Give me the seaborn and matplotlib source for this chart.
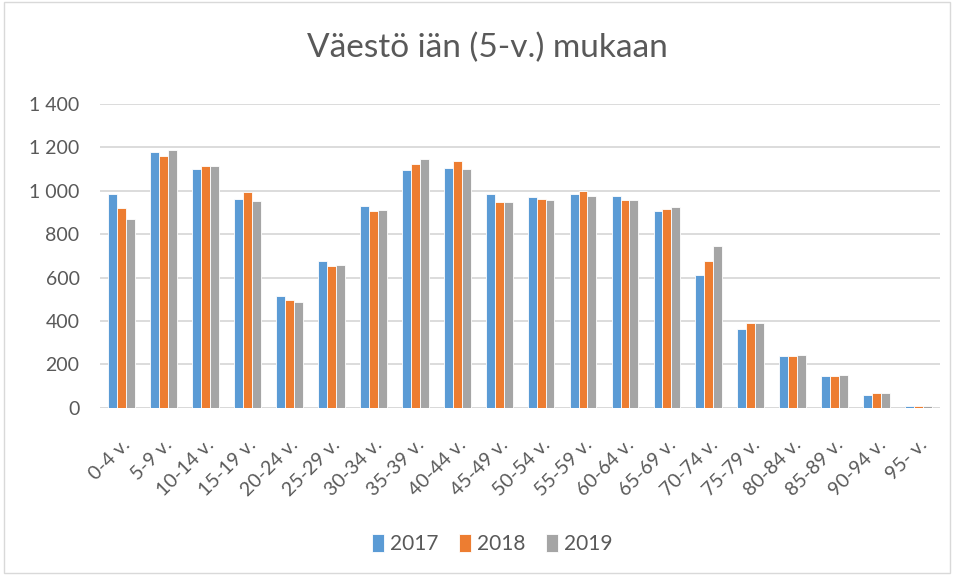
import numpy as np
import pandas as pd
import matplotlib
matplotlib.use("Agg")
import matplotlib.pyplot as plt
import seaborn as sns
from matplotlib.ticker import FuncFormatter
from matplotlib.patches import Rectangle

# --- DATA ---
age_groups = ["0-4 v.", "5-9 v.", "10-14 v.", "15-19 v.", "20-24 v.", "25-29 v.",
              "30-34 v.", "35-39 v.", "40-44 v.", "45-49 v.", "50-54 v.", "55-59 v.",
              "60-64 v.", "65-69 v.", "70-74 v.", "75-79 v.", "80-84 v.", "85-89 v.",
              "90-94 v.", "95- v."]
years = ["2017", "2018", "2019"]
pop_2017 = [987, 1177, 1100, 964, 517, 676, 929, 1094, 1106, 987,
            970, 987, 976, 906, 611, 364, 240, 145, 58, 10]
pop_2018 = [921, 1160, 1112, 995, 499, 652, 906, 1123, 1135, 947,
            964, 999, 958, 917, 676, 393, 240, 145, 69, 10]
pop_2019 = [871, 1189, 1112, 953, 487, 658, 912, 1148, 1100, 947,
            958, 976, 958, 923, 747, 393, 246, 151, 69, 8]
colors = ["#5B9BD5", "#ED7D31", "#A5A5A5"]

df = pd.DataFrame({
    "ika": age_groups * 3,
    "vuosi": np.repeat(years, len(age_groups)),
    "vaesto": pop_2017 + pop_2018 + pop_2019,
})

sns.set_style("white")
plt.rcParams["font.family"] = ["Lato", "DejaVu Sans"]
text_col = "#595959"

fig = plt.figure(figsize=(9.56, 5.77), dpi=100)
ax = fig.add_axes([0.105, 0.293, 0.878, 0.527])

sns.barplot(data=df, x="ika", y="vaesto", hue="vuosi", palette=colors,
            saturation=1, width=0.64, edgecolor="white", linewidth=0.6,
            ax=ax, zorder=3)

ax.set_ylim(0, 1400)
ax.set_xlim(-0.5, len(age_groups) - 0.5)
ax.set_yticks(range(0, 1401, 200))
ax.yaxis.set_major_formatter(FuncFormatter(lambda v, p: f"{int(v):,}".replace(",", " ")))
ax.grid(axis="y", color="#d9d9d9", linewidth=1.3, zorder=0)
for s in ax.spines.values():
    s.set_visible(False)
ax.axhline(0, color="#d9d9d9", linewidth=1.3, zorder=1)
ax.set_xlabel("")
ax.set_ylabel("")
ax.tick_params(axis="y", length=0, labelsize=14, colors=text_col, pad=15)
ax.tick_params(axis="x", length=0, labelsize=14, colors=text_col, pad=20)
plt.setp(ax.get_xticklabels(), rotation=45, ha="right", rotation_mode="anchor")

fig.text(0.51, 0.917, "Väestö iän (5-v.) mukaan", ha="center", va="center",
         fontsize=24, color=text_col)

handles, labels = ax.get_legend_handles_labels()
ax.legend_.remove()
fig.legend(handles, labels, loc="center", bbox_to_anchor=(0.515, 0.057), ncol=3,
           frameon=False, fontsize=15, handlelength=0.55, handleheight=0.9,
           handletextpad=0.3, columnspacing=1.0, labelcolor=text_col)

fig.patches.append(Rectangle((0.004, 0.007), 0.99, 0.99, transform=fig.transFigure,
                             fill=False, edgecolor="#d9d9d9", linewidth=1))

fig.savefig("out.png", dpi=100)
